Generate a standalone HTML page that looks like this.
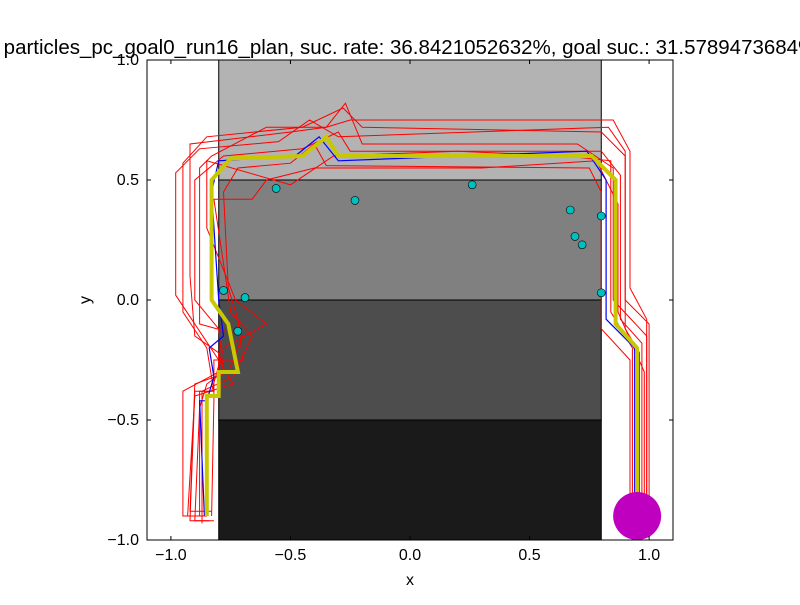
<!DOCTYPE html>
<html><head><meta charset="utf-8"><style>
body{margin:0;background:#fff;width:800px;height:600px;overflow:hidden}
svg text{font-family:"Liberation Sans",sans-serif}
</style></head><body>
<svg id="chart" width="800" height="600"></svg>
<script>
const regionBands=[[0.5,1.0,'#b3b3b3'],[0.0,0.5,'#808080'],[-0.5,0.0,'#4d4d4d'],[-1.0,-0.5,'#1a1a1a']];
const xTicks=[-1.0,-0.5,0.0,0.5,1.0];
const yTicks=[-1.0,-0.5,0.0,0.5,1.0];
const yellowPath=[[0.95,-0.9],[0.95,-0.2],[0.86,-0.1],[0.86,0.5],[0.76,0.6],[-0.3,0.6],[-0.35,0.68],[-0.45,0.6],[-0.75,0.59],[-0.83,0.5],[-0.83,0.0],[-0.76,-0.1],[-0.72,-0.3],[-0.8,-0.3],[-0.8,-0.4],[-0.85,-0.4],[-0.85,-0.9]];
const bluePath=[[0.94,-0.9],[0.94,-0.2],[0.82,-0.08],[0.82,0.5],[0.74,0.62],[-0.3,0.58],[-0.38,0.68],[-0.48,0.6],[-0.8,0.58],[-0.83,0.45],[-0.8,0.0],[-0.78,-0.15],[-0.84,-0.2],[-0.82,-0.32],[-0.85,-0.42],[-0.88,-0.42],[-0.86,-0.9]];
const redPaths=[
[[0.97,-0.9],[0.97,-0.18],[0.88,-0.08],[0.88,0.52],[0.8,0.62],[-0.25,0.62],[-0.3,0.7],[-0.45,0.63],[-0.78,0.6],[-0.9,0.5],[-0.9,0.0],[-0.8,-0.12],[-0.78,-0.3],[-0.85,-0.35],[-0.88,-0.45],[-0.9,-0.92],[-0.82,-0.92]],
[[1.0,-0.92],[1.0,-0.1],[0.9,0.0],[0.9,0.6],[0.8,0.7],[-0.2,0.72],[-0.28,0.8],[-0.45,0.72],[-0.85,0.68],[-0.95,0.57],[-0.95,-0.05],[-0.85,-0.2],[-0.82,-0.38],[-0.9,-0.38],[-0.92,-0.92],[-0.84,-0.92]],
[[0.92,-0.95],[0.92,-0.25],[0.8,-0.12],[0.8,0.45],[0.75,0.55],[-0.35,0.56],[-0.4,0.65],[-0.5,0.57],[-0.72,0.55],[-0.78,0.45],[-0.76,0.05],[-0.72,-0.08],[-0.7,-0.25],[-0.82,-0.25],[-0.82,-0.42],[-0.83,-0.9]],
[[0.99,-0.88],[0.99,-0.15],[0.85,0.0],[0.85,0.55],[0.7,0.65],[-0.2,0.65],[-0.27,0.82],[-0.35,0.72],[-0.6,0.72],[-0.83,0.6],[-0.88,0.55],[-0.88,-0.1],[-0.7,-0.15],[-0.76,-0.3],[-0.9,-0.35],[-0.92,-0.88],[-0.83,-0.88]],
[[0.96,-0.92],[0.96,-0.22],[0.9,-0.12],[0.9,0.62],[0.83,0.72],[-0.3,0.68],[-0.42,0.75],[-0.55,0.66],[-0.88,0.63],[-0.98,0.53],[-0.98,0.02],[-0.8,-0.25],[-0.74,-0.35],[-0.9,-0.4],[-0.93,-0.9],[-0.85,-0.9]],
[[0.98,-0.93],[0.98,-0.3],[0.87,-0.05],[0.87,0.4],[0.78,0.58],[0.3,0.55],[-0.4,0.55],[-0.6,0.5],[-0.66,0.42],[-0.82,0.42],[-0.75,-0.05],[-0.66,-0.15],[-0.74,-0.32],[-0.87,-0.38],[-0.87,-0.93]],
[[0.93,-0.9],[0.93,-0.2],[0.84,-0.05],[0.84,0.58],[0.65,0.6],[0.2,0.62],[-0.32,0.6],[-0.5,0.48],[-0.85,0.58],[-0.85,0.3],[-0.73,0.0],[-0.6,-0.1],[-0.78,-0.2],[-0.83,-0.38],[-0.88,-0.38],[-0.88,-0.9]],
[[0.99,-0.9],[0.99,-0.08],[0.92,0.05],[0.92,0.62],[0.85,0.75],[-0.25,0.75],[-0.35,0.72],[-0.5,0.7],[-0.92,0.65],[-0.92,0.1],[-0.9,-0.15],[-0.8,-0.22],[-0.8,-0.3],[-0.95,-0.38],[-0.95,-0.9],[-0.86,-0.9]]
];
const cyanX=[-0.78,-0.69,-0.56,-0.23,0.26,0.67,0.69,0.72,0.8,0.8,-0.72];
const cyanY=[0.04,0.01,0.465,0.415,0.48,0.375,0.265,0.23,0.35,0.03,-0.13];
const goalX=0.95, goalY=-0.9, goalR=0.1;

const NS='http://www.w3.org/2000/svg';
const svg=document.getElementById('chart');
const L=147,R=673,T=60,B=540;
const sx=v=>L+(v+1.1)/2.2*(R-L);
const sy=v=>T+(1-v)/2*(B-T);
function mk(tag,attrs,parent){const e=document.createElementNS(NS,tag);for(const k in attrs)e.setAttribute(k,attrs[k]);(parent||svg).appendChild(e);return e;}
const clip=mk('clipPath',{id:'pc'});mk('rect',{x:L,y:T,width:R-L,height:B-T},clip);
const g=mk('g',{'clip-path':'url(#pc)'});
regionBands.forEach((b,i)=>{const r=mk('rect',{x:sx(-0.8),y:sy(b[1]),width:sx(0.8)-sx(-0.8),height:sy(b[0])-sy(b[1]),fill:b[2],stroke:'#000','stroke-width':1},g);
});
const pts=p=>p.map(q=>sx(q[0]).toFixed(1)+','+sy(q[1]).toFixed(1)).join(' ');
redPaths.forEach((p,i)=>{const e=mk('polyline',{points:pts(p),fill:'none',stroke:'#ff0000','stroke-width':1},g);
});
const bl=mk('polyline',{points:pts(bluePath),fill:'none',stroke:'#0000ff','stroke-width':1.2},g);

const yl=mk('polyline',{points:pts(yellowPath),fill:'none',stroke:'#c8c800','stroke-width':4},g);

cyanX.forEach((x,i)=>{const c=mk('circle',{cx:sx(x),cy:sy(cyanY[i]),r:4,fill:'#00bfbf',stroke:'#000','stroke-width':0.6},g);
});
const gc=mk('circle',{cx:sx(goalX),cy:sy(goalY),r:sy(goalY-goalR)-sy(goalY),fill:'#bf00bf'},g);

const fr=mk('rect',{x:L,y:T,width:R-L,height:B-T,fill:'none',stroke:'#000','stroke-width':1});

const fmt=v=>(v<0?'\u2212':'')+Math.abs(v).toFixed(1);
xTicks.forEach(v=>{const x=sx(v);mk('line',{x1:x,x2:x,y1:B,y2:B-4,stroke:'#000'});mk('line',{x1:x,x2:x,y1:T,y2:T+4,stroke:'#000'});
const t=mk('text',{x:x,y:B+20,'text-anchor':'middle','font-size':16});t.textContent=fmt(v);
});
yTicks.forEach(v=>{const y=sy(v);mk('line',{x1:L,x2:L+4,y1:y,y2:y,stroke:'#000'});mk('line',{x1:R,x2:R-4,y1:y,y2:y,stroke:'#000'});
const t=mk('text',{x:L-8,y:y+5,'text-anchor':'end','font-size':16});t.textContent=fmt(v);
});
const xt=mk('text',{x:410,y:585,'text-anchor':'middle','font-size':16});xt.textContent='x';

const yt=mk('text',{x:90,y:300,'text-anchor':'middle','font-size':16,transform:'rotate(-90 90 300)'});yt.textContent='y';

const tt=mk('text',{x:410,y:54,'text-anchor':'middle','font-size':20.5});tt.textContent='particles_pc_goal0_run16_plan, suc. rate: 36.8421052632%, goal suc.: 31.5789473684%';

</script>
</body></html>
